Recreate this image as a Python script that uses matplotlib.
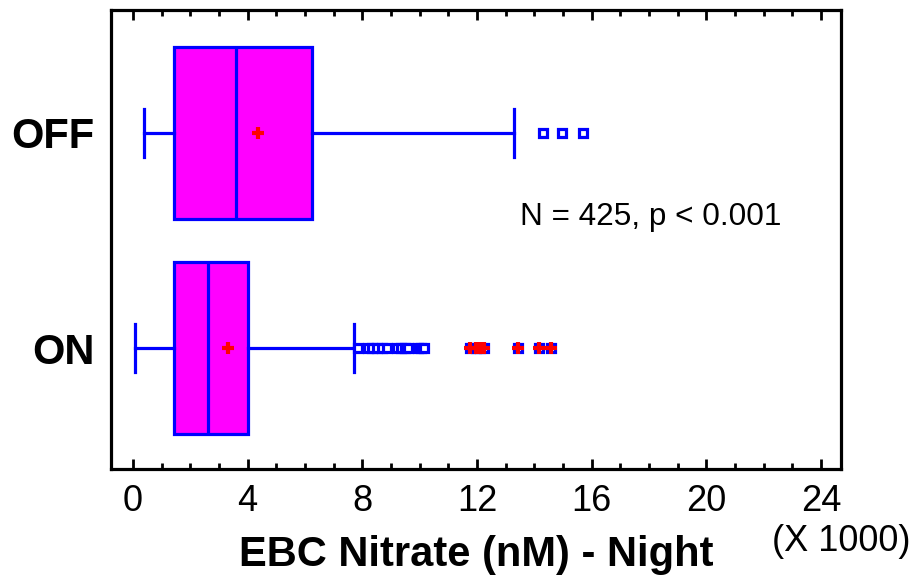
import matplotlib
matplotlib.use("Agg")
import matplotlib.pyplot as plt
from matplotlib.ticker import MultipleLocator

# values in thousands of nM
categories = ['ON', 'OFF']
q1 = [1.43, 1.43]
medians = [2.62, 3.59]
q3 = [4.01, 6.24]
whis_lo = [0.07, 0.38]
whis_hi = [7.72, 13.29]
means = [3.31, 4.36]

on_outliers = [7.85, 8.2, 8.35, 8.5, 8.7, 8.85, 9.2, 9.35, 9.5, 9.6, 9.95, 10.05, 10.15,
               11.75, 11.95, 12.1, 12.25, 13.43, 14.16, 14.6]
on_far = [11.75, 11.95, 12.1, 12.25, 13.43, 14.16, 14.6]
off_outliers = [14.3, 14.96, 15.7]
off_far = []

xticks = [0, 4, 8, 12, 16, 20, 24]

plt.rcParams['font.family'] = ['Liberation Sans', 'DejaVu Sans']

fig = plt.figure(figsize=(9.14, 5.82), dpi=100)
ax = fig.add_axes([0.1214, 0.194, 0.7987, 0.789])

fliers = [on_outliers, off_outliers]
stats = []
for i, cat in enumerate(categories):
    stats.append(dict(label=cat, q1=q1[i], med=medians[i], q3=q3[i],
                      whislo=whis_lo[i], whishi=whis_hi[i], mean=means[i],
                      fliers=fliers[i]))

blue = '#0000ff'
ax.bxp(stats, positions=[0, 1], widths=0.8, vert=False, patch_artist=True,
       showmeans=True, capwidths=0.22,
       boxprops=dict(facecolor='#ff00ff', edgecolor=blue, linewidth=2.3),
       medianprops=dict(color=blue, linewidth=2.3),
       whiskerprops=dict(color=blue, linewidth=2.3),
       capprops=dict(color=blue, linewidth=2.3),
       meanprops=dict(marker='+', markeredgecolor='red', markersize=9, markeredgewidth=3),
       flierprops=dict(marker='s', markerfacecolor='white', markeredgecolor=blue,
                       markersize=6, markeredgewidth=2.3))

far = [on_far, off_far]
for pos, vals in enumerate(far):
    ax.plot(vals, [pos] * len(vals), linestyle='none', marker='+', color='red',
            markersize=9, markeredgewidth=3)

ax.set_xlim(-0.77, 24.7)
ax.set_ylim(-0.563, 1.572)
ax.set_xticks(xticks)
ax.set_xticklabels([str(t) for t in xticks], fontsize=26)
ax.xaxis.set_minor_locator(MultipleLocator(1))
ax.tick_params(axis='x', which='both', direction='in', top=True, bottom=True, width=2, pad=11)
ax.tick_params(axis='x', which='major', length=7)
ax.tick_params(axis='x', which='minor', length=4)
ax.tick_params(axis='y', length=0, pad=12)
ax.set_yticklabels(categories, fontsize=30, fontweight='bold')
for s in ax.spines.values():
    s.set_linewidth(2.3)

ax.set_xlabel('EBC Nitrate (nM) - Night', fontsize=30, fontweight='bold', labelpad=11)
fig.text(0.920, 0.07, '(X 1000)', ha='center', va='center', fontsize=26)
ax.text(13.5, 0.61, 'N = 425, p < 0.001', fontsize=22.7, va='center', ha='left')

fig.savefig('out.png', dpi=100)
